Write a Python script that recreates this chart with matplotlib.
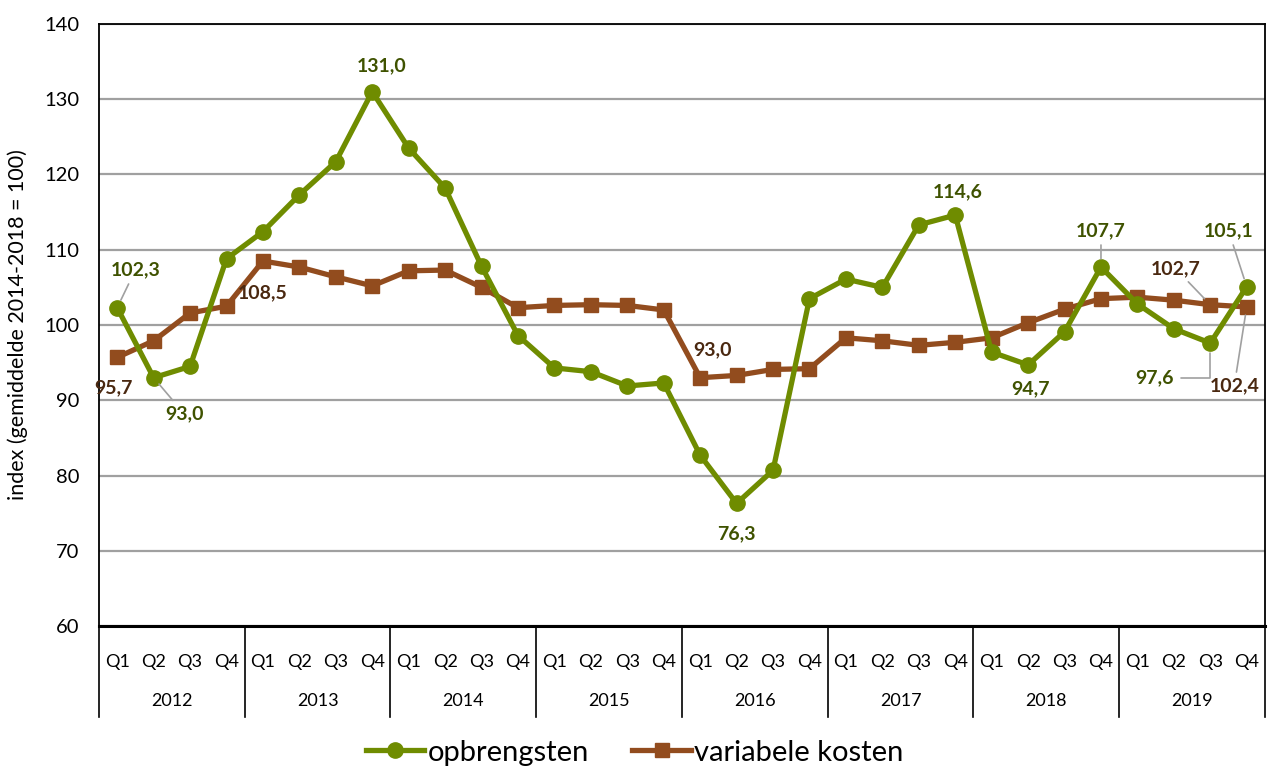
import matplotlib
matplotlib.use("Agg")
import matplotlib.pyplot as plt
import matplotlib.transforms as mtransforms
from matplotlib.lines import Line2D

plt.rcParams['font.family'] = ['Lato', 'DejaVu Sans']

# data
years = ["2012", "2013", "2014", "2015", "2016", "2017", "2018", "2019"]
quarters = ["Q1", "Q2", "Q3", "Q4"]

opbrengsten = [102.3, 93.0, 94.5, 108.8,
               112.4, 117.3, 121.7, 131.0,
               123.5, 118.2, 107.8, 98.6,
               94.3, 93.8, 91.9, 92.3,
               82.7, 76.3, 80.7, 103.5,
               106.1, 105.0, 113.3, 114.6,
               96.4, 94.7, 99.1, 107.7,
               102.8, 99.5, 97.6, 105.1]

variabele_kosten = [95.7, 97.9, 101.6, 102.5,
                    108.5, 107.7, 106.4, 105.2,
                    107.2, 107.3, 105.0, 102.3,
                    102.6, 102.7, 102.6, 102.0,
                    93.0, 93.3, 94.1, 94.2,
                    98.3, 97.9, 97.3, 97.7,
                    98.3, 100.3, 102.1, 103.5,
                    103.7, 103.3, 102.7, 102.4]

# (series, index, offset in points, leader line style)
labels = [
    ("g", 0, (13, 27), "line"),
    ("g", 1, (22, -26), "line"),
    ("b", 0, (-3, -22), None),
    ("b", 4, (0, -23), None),
    ("g", 7, (7, 19), None),
    ("b", 16, (9, 20), None),
    ("g", 17, (0, -22), None),
    ("g", 23, (2, 17), None),
    ("g", 25, (2, -17), None),
    ("g", 27, (0, 26), "line"),
    ("g", 31, (-13, 40), "line"),
    ("b", 30, (-25, 26), "line"),
    ("g", 30, (-40, -25), "elbow"),
    ("b", 31, (-9, -57), "line"),
]

green = "#6f8c00"
brown = "#924c1e"
green_txt = "#3f5200"
brown_txt = "#4a2810"

fig = plt.figure(figsize=(12.69, 7.72), dpi=100)
ax = fig.add_axes([0.078, 0.189, 0.9188, 0.780])

x = list(range(len(opbrengsten)))
ax.plot(x, opbrengsten, color=green, lw=3.8, marker="o", markersize=11,
        label="opbrengsten", zorder=4)
ax.plot(x, variabele_kosten, color=brown, lw=3.8, marker="s", markersize=10.5,
        label="variabele kosten", zorder=3)

ax.set_ylim(60, 140)
ax.set_xlim(-0.5, len(x) - 0.5)
ax.set_yticks(range(60, 141, 10))
ax.yaxis.grid(True, color="#a0a0a0", lw=1.6)
ax.set_axisbelow(True)
ax.tick_params(axis="y", length=0, labelsize=14.5, pad=14)
ax.set_ylabel("index (gemiddelde 2014-2018 = 100)", fontsize=15.5, labelpad=12)

ax.set_xticks(x)
ax.set_xticklabels(quarters * len(years), fontsize=13)
ax.tick_params(axis="x", length=0, pad=20)

for s in ["top", "right", "left"]:
    ax.spines[s].set_linewidth(1.3)
ax.spines["bottom"].set_linewidth(2.2)

# year labels and separators below the axis
trans = mtransforms.blended_transform_factory(ax.transData, ax.transAxes)
for k, yr in enumerate(years):
    ax.text(4 * k + 1.5, -0.124, yr, transform=trans, ha="center", va="center",
            fontsize=13)
for k in range(len(years) + 1):
    ax.add_line(Line2D([4 * k - 0.5, 4 * k - 0.5], [0, -0.151], transform=trans,
                       color="black", lw=1.2, clip_on=False))

# data labels
for ser, i, off, lead in labels:
    vals = opbrengsten if ser == "g" else variabele_kosten
    col = green_txt if ser == "g" else brown_txt
    txt = f"{vals[i]:.1f}".replace(".", ",")
    ap = None
    if lead == "line":
        ap = dict(arrowstyle="-", color="#a0a0a0", lw=1.2, shrinkA=2, shrinkB=6)
    elif lead == "elbow":
        ap = dict(arrowstyle="-", color="#a0a0a0", lw=1.2, shrinkA=3, shrinkB=7,
                  connectionstyle="angle,angleA=0,angleB=90,rad=0")
    ax.annotate(txt, xy=(i, vals[i]), xytext=off, textcoords="offset points",
                ha="center", va="center", fontsize=14, fontweight="bold",
                color=col, arrowprops=ap, zorder=6)

fig.legend(loc="center", bbox_to_anchor=(0.5, 0.025), ncol=2, frameon=False,
           fontsize=21, handlelength=2.0, handletextpad=0.1, columnspacing=1.5)

fig.savefig("out.png", dpi=100)
